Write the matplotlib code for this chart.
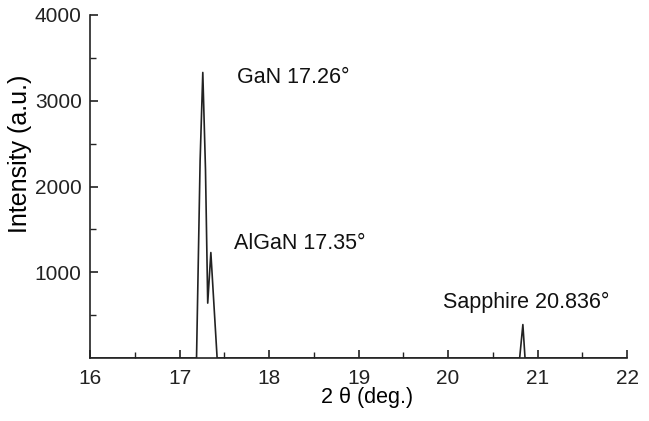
import matplotlib
matplotlib.use('Agg')
import matplotlib.pyplot as plt

# XRD scan, points
two_theta = [16.0, 17.19, 17.23, 17.26, 17.29, 17.315, 17.35, 17.38, 17.42, 20.80, 20.836, 20.86, 22.0]
intensity = [0, 0, 2300, 3330, 2200, 640, 1230, 700, 0, 0, 390, 0, 0]

peak_labels = ['GaN 17.26°', 'AlGaN 17.35°', 'Sapphire 20.836°']
label_x = [17.64, 17.61, 19.94]
label_y = [3270, 1340, 650]

plt.rcParams['font.family'] = ['Liberation Sans', 'DejaVu Sans']

fig = plt.figure(figsize=(6.49, 4.21), dpi=100)
ax = fig.add_axes([0.1387, 0.1496, 0.8275, 0.8148])

ax.plot(two_theta, intensity, color='#222222', lw=1.2)

for txt, x, y in zip(peak_labels, label_x, label_y):
    ax.text(x, y, txt, fontsize=15.5, va='center', ha='left', color='#111111')

ax.set_xlim(16, 22)
ax.set_ylim(0, 4000)
ax.set_xticks([16, 17, 18, 19, 20, 21, 22])
ax.set_xticks([16.5, 17.5, 18.5, 19.5, 20.5, 21.5], minor=True)
ax.set_yticks([1000, 2000, 3000, 4000])
ax.set_yticks([500, 1500, 2500, 3500], minor=True)

for s in ['top', 'right']:
    ax.spines[s].set_visible(False)
for s in ['left', 'bottom']:
    ax.spines[s].set_linewidth(1.2)
    ax.spines[s].set_color('#222222')

ax.tick_params(which='major', direction='in', length=6, width=1.2, labelsize=15, colors='#222222', pad=6)
ax.tick_params(which='minor', direction='in', length=4, width=1.0, colors='#222222')
ax.tick_params(axis='x', which='major', pad=8)

ax.set_xlabel('2 θ (deg.)', fontsize=15.5, labelpad=0.5)
ax.xaxis.set_label_coords(0.516, -0.085)
ax.set_ylabel('Intensity (a.u.)', fontsize=18, va='center')
ax.yaxis.set_label_coords(-0.13, 0.595)

plt.savefig('out.png')
